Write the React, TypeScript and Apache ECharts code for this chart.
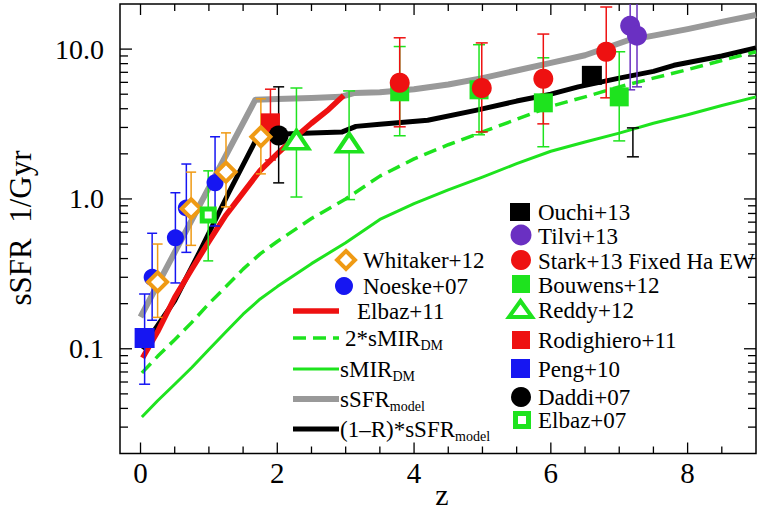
import React, { useEffect, useRef } from "react";
import * as echarts from "echarts";

const FONT = '"Liberation Serif", "Times New Roman", Times, serif';
const GREEN = "#1ee31e";
const RED = "#ee1111";
const BLUE = "#1616f2";
const ORANGE = "#ef9a14";
const PURPLE = "#6a30c2";
const GRAY = "#999999";
const BLACK = "#000000";

// axis ticks
const xMajorTicks = [0, 2, 4, 6, 8];
const xMinorTicks = [0.5, 1, 1.5, 2.5, 3, 3.5, 4.5, 5, 5.5, 6.5, 7, 7.5, 8.5];
const yMajorTicks = [0.1, 1, 10];
const yMinorTicks = [
  0.03, 0.04, 0.05, 0.06, 0.07, 0.08, 0.09,
  0.2, 0.3, 0.4, 0.5, 0.6, 0.7, 0.8, 0.9,
  2, 3, 4, 5, 6, 7, 8, 9,
];

// model curves [z, sSFR]
const ssfrModel: [number, number][] = [
  [0.0, 0.163], [1.68, 4.6], [2.0, 4.65], [2.5, 4.72], [2.93, 4.8], [3.13, 5.1],
  [3.5, 5.15], [4.0, 5.4], [4.5, 5.8], [5.0, 6.4], [5.5, 7.2], [6.0, 8.1],
  [6.5, 9.1], [7.14, 11.5], [7.5, 12.3], [8.0, 13.6], [8.5, 15.2], [9.0, 16.9],
];
const ssfrModelR: [number, number][] = [
  [0.02, 0.1], [0.5, 0.21], [0.86, 0.44], [1.29, 1.1], [1.72, 2.65], [2.0, 2.7],
  [2.5, 2.75], [2.95, 2.8], [3.15, 3.05], [3.5, 3.15], [4.2, 3.35], [4.9, 3.9],
  [5.5, 4.5], [6.0, 5.0], [6.4, 5.6], [7.0, 6.4], [7.5, 7.1], [7.8, 7.8],
  [8.5, 9.0], [9.0, 10.2],
];
const elbaz11Line: [number, number][] = [
  [0.03, 0.087], [0.25, 0.13], [0.5, 0.22], [0.75, 0.34], [1.0, 0.52],
  [1.25, 0.78], [1.5, 1.1], [1.75, 1.55], [2.0, 2.0], [2.25, 2.55],
  [2.5, 3.2], [2.75, 3.95], [2.97, 4.9],
];
const smirDM: [number, number][] = [
  [0.02, 0.035], [0.25, 0.045], [0.5, 0.058], [0.75, 0.075], [1.0, 0.099],
  [1.25, 0.13], [1.5, 0.17], [1.75, 0.215], [2.0, 0.26], [2.5, 0.37],
  [3.0, 0.51], [3.5, 0.73], [4.0, 0.93], [4.5, 1.15], [5.0, 1.4], [5.5, 1.72],
  [6.0, 2.08], [6.5, 2.4], [7.0, 2.75], [7.5, 3.2], [8.0, 3.65], [8.5, 4.2], [9.0, 4.8],
];
const smir2DM: [number, number][] = [
  [0.02, 0.069], [0.25, 0.089], [0.5, 0.115], [0.75, 0.15], [1.0, 0.2],
  [1.25, 0.26], [1.5, 0.34], [1.75, 0.43], [2.0, 0.52], [2.5, 0.74],
  [3.0, 1.0], [3.5, 1.42], [4.0, 1.85], [4.5, 2.3], [5.0, 2.8], [5.5, 3.4],
  [6.0, 4.15], [6.5, 4.8], [7.0, 5.6], [7.5, 6.4], [8.0, 7.3], [8.5, 8.4], [9.0, 9.6],
];

// observations [z, sSFR, low, high]
const noeske07 = [[0.17, 0.3, 0.155, 0.59], [0.51, 0.55, 0.275, 1.1], [0.67, 0.87, 0.44, 1.71], [1.09, 1.28, 0.66, 2.6]];
const whitaker12 = [[0.25, 0.279, 0.162, 0.5], [0.74, 0.86, 0.49, 1.51], [1.25, 1.51, 0.885, 2.76], [1.76, 2.6, 1.47, 4.66]];
const elbaz07 = [[0.99, 0.78, 0.386, 1.54]];
const peng10 = [[0.06, 0.118, 0.058, 0.232]];
const rodighiero11 = [[1.9, 3.22, 1.82, 5.4]];
const daddi07 = [[2.02, 2.65, 1.28, 5.6]];
const reddy12 = [[2.28, 2.48, 1.03, 5.5], [3.05, 2.37, 0.99, 5.26]];
const bouwens12 = [[3.79, 5.19, 2.64, 10.4], [4.95, 5.35, 2.68, 10.7], [5.89, 4.38, 2.23, 8.75], [7.0, 4.8, 2.44, 9.6]];
const stark13 = [[3.79, 5.96, 3.03, 11.9], [4.99, 5.5, 2.8, 11.0], [5.89, 6.34, 3.17, 12.6], [6.81, 9.6, 4.73, 19.1]];
const tilvi13 = [[7.16, 14.3, 5.35, 30], [7.26, 12.3, 5.6, 30]];
const ouchi13 = [[6.6, 6.68]];
const ouchi13Err = [[7.2, 1.91, 2.98]];

function lineSeries(name: string, data: [number, number][], color: string, width: number, dash?: number[]) {
  return {
    type: "line", name, data, showSymbol: false, symbol: "none", z: 2, silent: true,
    lineStyle: { color, width, type: dash ? dash : "solid", cap: "butt", join: "round" },
  };
}

function errSeries(name: string, data: number[][], color: string, cap = 11) {
  return {
    type: "custom", name: name + " err", silent: true, z: 3,
    data,
    encode: { x: 0, y: [1, 2] },
    renderItem: (params: any, api: any) => {
      const cs = params.coordSys;
      const x = api.value(0);
      const pLo = api.coord([x, api.value(1)]);
      const pHi = api.coord([x, api.value(2)]);
      const top = Math.max(pHi[1], cs.y);
      const st = { stroke: color, lineWidth: 1.5 };
      const children: any[] = [
        { type: "line", shape: { x1: pLo[0], y1: pLo[1], x2: pLo[0], y2: top }, style: st },
        { type: "line", shape: { x1: pLo[0] - cap / 2, y1: pLo[1], x2: pLo[0] + cap / 2, y2: pLo[1] }, style: st },
      ];
      if (pHi[1] >= cs.y) {
        children.push({ type: "line", shape: { x1: pHi[0] - cap / 2, y1: pHi[1], x2: pHi[0] + cap / 2, y2: pHi[1] }, style: st });
      }
      return { type: "group", children };
    },
  };
}

function scatterSeries(name: string, data: number[][], symbol: string, size: any, style: any) {
  return {
    type: "scatter", name, symbol, symbolSize: size, z: 3, silent: true,
    data: data.map((d) => [d[0], d[1]]),
    itemStyle: { opacity: 1, ...style },
  };
}

function pair(name: string, data: number[][], symbol: string, size: any, style: any, errColor: string, cap = 11) {
  return [
    scatterSeries(name, data, symbol, size, style),
    errSeries(name, data.map((d) => [d[0], d[2], d[3]]), errColor, cap),
  ];
}

const tickData = [
  ...xMajorTicks.map((v) => [v, 1, 0]),
  ...xMinorTicks.map((v) => [v, 1, 1]),
  ...yMajorTicks.map((v) => [0, v, 2]),
  ...yMinorTicks.map((v) => [0, v, 3]),
];

const tickSeries = {
  type: "custom", name: "ticks", silent: true, z: 10,
  data: tickData,
  encode: { x: 0, y: 1 },
  renderItem: (params: any, api: any) => {
    const cs = params.coordSys;
    const kind = api.value(2);
    const st = { stroke: "#000", lineWidth: 1.3 };
    const children: any[] = [];
    if (kind < 2) {
      const x = api.coord([api.value(0), 1])[0];
      const len = kind === 0 ? 11 : 7;
      children.push({ type: "line", shape: { x1: x, y1: cs.y + cs.height, x2: x, y2: cs.y + cs.height - len }, style: st });
      children.push({ type: "line", shape: { x1: x, y1: cs.y, x2: x, y2: cs.y + len }, style: st });
    } else {
      const y = api.coord([0, api.value(1)])[1];
      const len = kind === 2 ? 12 : 8;
      children.push({ type: "line", shape: { x1: cs.x, y1: y, x2: cs.x + len, y2: y }, style: st });
      children.push({ type: "line", shape: { x1: cs.x + cs.width, y1: y, x2: cs.x + cs.width - len, y2: y }, style: st });
    }
    return { type: "group", children };
  },
};

const LF = 23;
function ltext(x: number, y: number, text: string) {
  return {
    type: "text", x, y, z: 20,
    style: { text, fontSize: LF, fontFamily: FONT, fill: "#000", align: "left", verticalAlign: "middle" },
  };
}
function lrich(x: number, y: number, main: string, sub: string, pre = "") {
  return {
    type: "text", x, y, z: 20,
    style: {
      text: `{m|${main}}{s|${sub}}` + (pre ? "" : ""),
      fontSize: LF, fontFamily: FONT, fill: "#000", align: "left", verticalAlign: "middle",
      rich: {
        m: { fontSize: LF, fontFamily: FONT, fill: "#000", verticalAlign: "bottom" },
        s: { fontSize: 14, fontFamily: FONT, fill: "#000", verticalAlign: "bottom", padding: [0, 0, -3, 0] },
      },
    },
  };
}
function lline(y: number, color: string, width: number, dash?: number[]) {
  return {
    type: "line", z: 20,
    shape: { x1: 293, y1: y, x2: 339, y2: y },
    style: { stroke: color, lineWidth: width, lineDash: dash || null, lineCap: "butt" },
  };
}

const graphic: any[] = [
  // axis titles
  { type: "text", x: 442, y: 494, z: 20, style: { text: "z", fontSize: 30, fontFamily: FONT, fill: "#000", align: "center", verticalAlign: "middle" } },
  { type: "text", x: 20, y: 228, rotation: Math.PI / 2, z: 20, style: { text: "sSFR  1/Gyr", fontSize: 31, fontFamily: FONT, fill: "#000", align: "center", verticalAlign: "middle" } },
  // left legend column
  { type: "polygon", z: 20, shape: { points: [[346, 251], [355, 260], [346, 269], [337, 260]] }, style: { fill: "#fff", stroke: ORANGE, lineWidth: 4 } },
  ltext(363, 260, "Whitaker+12"),
  { type: "circle", z: 20, shape: { cx: 344, cy: 286, r: 9 }, style: { fill: BLUE } },
  ltext(363, 286, "Noeske+07"),
  lline(311, RED, 5.5),
  ltext(357, 311, "Elbaz+11"),
  lline(338, GREEN, 3.5, [13, 7]),
  lrich(345, 338, "2*sMIR", "DM"),
  lline(369, GREEN, 3),
  lrich(340, 369, "sMIR", "DM"),
  lline(399, GRAY, 6),
  lrich(340, 399, "sSFR", "model"),
  lline(429, BLACK, 5),
  lrich(340, 429, "(1–R)*sSFR", "model"),
  // right legend column
  { type: "rect", z: 20, shape: { x: 510, y: 203, width: 20, height: 18 }, style: { fill: BLACK } },
  ltext(538, 212, "Ouchi+13"),
  { type: "circle", z: 20, shape: { cx: 521, cy: 235, r: 10.5 }, style: { fill: PURPLE } },
  ltext(538, 236, "Tilvi+13"),
  { type: "circle", z: 20, shape: { cx: 521, cy: 260, r: 10 }, style: { fill: RED } },
  ltext(538, 261, "Stark+13 Fixed Ha EW"),
  { type: "rect", z: 20, shape: { x: 512, y: 275, width: 18, height: 18 }, style: { fill: GREEN } },
  ltext(538, 285, "Bouwens+12"),
  { type: "polygon", z: 20, shape: { points: [[520.5, 301], [532, 317], [509, 317]] }, style: { fill: "#fff", stroke: GREEN, lineWidth: 4 } },
  ltext(538, 310, "Reddy+12"),
  { type: "rect", z: 20, shape: { x: 512, y: 331, width: 18, height: 18 }, style: { fill: RED } },
  ltext(538, 340, "Rodighiero+11"),
  { type: "rect", z: 20, shape: { x: 511, y: 359, width: 19, height: 19 }, style: { fill: BLUE } },
  ltext(538, 369, "Peng+10"),
  { type: "circle", z: 20, shape: { cx: 521, cy: 397, r: 10 }, style: { fill: BLACK } },
  ltext(538, 397, "Daddi+07"),
  { type: "rect", z: 20, shape: { x: 515.5, y: 413.5, width: 13, height: 13 }, style: { fill: "#fff", stroke: GREEN, lineWidth: 5 } },
  ltext(538, 420, "Elbaz+07"),
];

const isTick = (arr: number[], v: number, log = false) =>
  arr.some((t) => Math.abs((log ? Math.log10(t) : t) - (log ? Math.log10(v) : v)) < 1e-6);

const option: any = {
  animation: false,
  backgroundColor: "#fff",
  grid: { left: 120, top: 4, width: 642, height: 449.5, show: true, borderColor: "#000", borderWidth: 1.5, backgroundColor: "transparent" },
  xAxis: {
    type: "value", min: -0.3, max: 9,
    axisLine: { show: false }, axisTick: { show: false }, splitLine: { show: false },
    axisLabel: {
      color: "#000", fontSize: 29, fontFamily: FONT, margin: 5,
      formatter: (v: number) => (isTick(xMajorTicks, v) ? String(Math.round(v)) : ""),
    },
  },
  yAxis: {
    type: "log", logBase: 10, min: 0.02, max: 20,
    axisLine: { show: false }, axisTick: { show: false }, splitLine: { show: false },
    axisLabel: {
      color: "#000", fontSize: 28, fontFamily: FONT, margin: 16,
      formatter: (v: number) => (v > 0 && isTick(yMajorTicks, v, true) ? v.toFixed(1) : ""),
    },
  },
  graphic,
  series: [
    lineSeries("sSFR_model", ssfrModel, GRAY, 6),
    lineSeries("(1-R)*sSFR_model", ssfrModelR, BLACK, 5),
    lineSeries("Elbaz+11", elbaz11Line, RED, 5.5),
    lineSeries("sMIR_DM", smirDM, GREEN, 3),
    lineSeries("2*sMIR_DM", smir2DM, GREEN, 3.5, [13, 7]),
    ...pair("Peng+10", peng10, "rect", 20, { color: BLUE }, BLUE),
    ...pair("Rodighiero+11", rodighiero11, "rect", 19, { color: RED }, RED),
    ...pair("Daddi+07", daddi07, "circle", 20, { color: BLACK }, BLACK),
    ...pair("Reddy+12", reddy12, "triangle", [24, 18], { color: "#fff", borderColor: GREEN, borderWidth: 4 }, GREEN, 12),
    ...pair("Bouwens+12", bouwens12, "rect", 19, { color: GREEN }, GREEN, 12),
    ...pair("Stark+13 Fixed Ha EW", stark13, "circle", 20, { color: RED }, RED, 12),
    scatterSeries("Ouchi+13", ouchi13, "rect", [20, 19], { color: BLACK }),
    errSeries("Ouchi+13", ouchi13Err, BLACK, 12),
    ...pair("Tilvi+13", tilvi13, "circle", 20, { color: PURPLE }, PURPLE, 10),
    ...pair("Noeske+07", noeske07, "circle", 17, { color: BLUE }, BLUE, 10),
    ...pair("Whitaker+12", whitaker12, "diamond", 19, { color: "#fff", borderColor: ORANGE, borderWidth: 4 }, ORANGE, 10),
    ...pair("Elbaz+07", elbaz07, "rect", 12, { color: "#fff", borderColor: GREEN, borderWidth: 5 }, GREEN, 10),
    tickSeries,
  ],
};

export default function App() {
  const ref = useRef<HTMLDivElement>(null);
  useEffect(() => {
    const chart = echarts.init(ref.current!, null, { renderer: "svg" });
    chart.setOption(option);
    return () => chart.dispose();
  }, []);
  return <div ref={ref} style={{ position: "absolute", left: 0, top: 0, width: 759, height: 510 }} />;
}
